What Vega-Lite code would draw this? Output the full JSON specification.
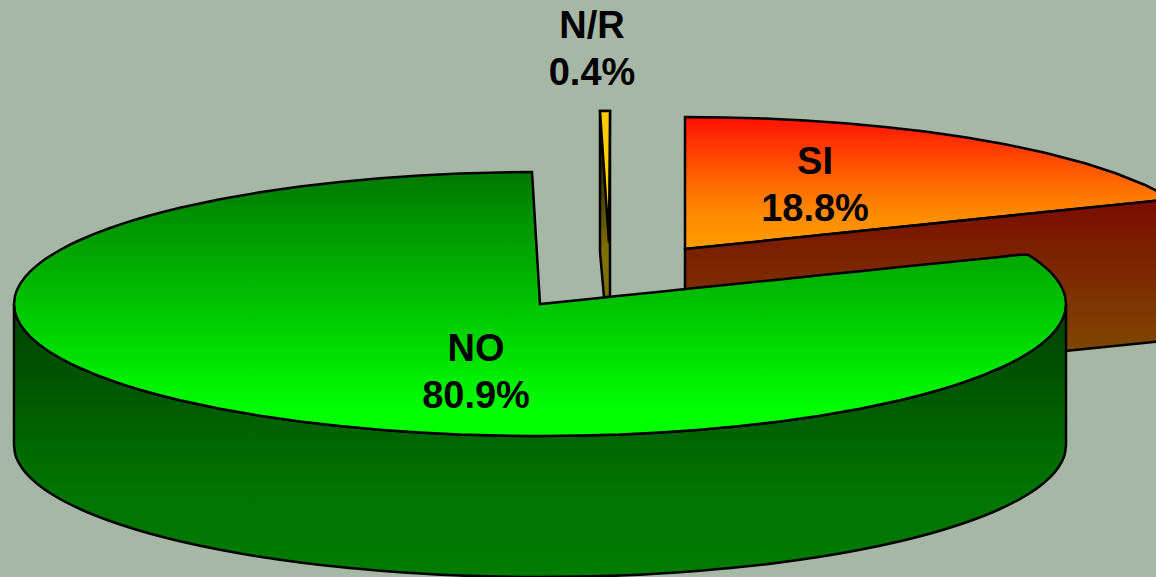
{
"$schema":"https://vega.github.io/schema/vega-lite/v6.json",
"width":1156,"height":577,"padding":0,"autosize":"none","background":"#A6B7A6",
"config":{"view":{"stroke":null}},
"datasets":{
"siTop":[{"x":685,"y":117,"y2":249},{"x":725,"y":117.4,"y2":244.9},{"x":765,"y":118.5,"y2":240.8},{"x":805,"y":120.5,"y2":236.7},{"x":845,"y":123.3,"y2":232.6},{"x":885,"y":126.9,"y2":228.5},{"x":925,"y":131.5,"y2":224.4},{"x":965,"y":137.2,"y2":220.3},{"x":1005,"y":144.2,"y2":216.2},{"x":1045,"y":152.8,"y2":212.1},{"x":1085,"y":163.3,"y2":208},{"x":1115,"y":173,"y2":204.9},{"x":1145,"y":185,"y2":201.9},{"x":1165,"y":195,"y2":199.8},{"x":1172,"y":199.1,"y2":199.1}],
"siSide":[{"x":685,"y":249,"y2":390},{"x":1172,"y":199.1,"y2":340.1}],
"nrSide":[{"x":600,"y":111,"y2":252},{"x":604,"y":111,"y2":297},{"x":610,"y":111,"y2":297}],
"nrTop":[{"x":600,"y":111,"y2":111},{"x":609,"y":111,"y2":243},{"x":610,"y":111,"y2":111}],
"noSide":[{"x":14,"y":304,"y2":445},{"x":15,"y":312.1,"y2":453.1},{"x":17,"y":318.1,"y2":459.1},{"x":20,"y":323.9,"y2":464.9},{"x":25,"y":330.9,"y2":471.9},{"x":30,"y":336.3,"y2":477.3},{"x":40,"y":345,"y2":486},{"x":60,"y":358,"y2":499},{"x":80,"y":368,"y2":509},{"x":110,"y":380,"y2":521},{"x":140,"y":389.7,"y2":530.7},{"x":180,"y":400.2,"y2":541.2},{"x":220,"y":408.8,"y2":549.8},{"x":260,"y":415.8,"y2":556.8},{"x":300,"y":421.5,"y2":562.5},{"x":340,"y":426.1,"y2":567.1},{"x":380,"y":429.7,"y2":570.7},{"x":420,"y":432.5,"y2":573.5},{"x":460,"y":434.5,"y2":575.5},{"x":500,"y":435.6,"y2":576.6},{"x":540,"y":436,"y2":577},{"x":580,"y":435.6,"y2":576.6},{"x":620,"y":434.5,"y2":575.5},{"x":660,"y":432.5,"y2":573.5},{"x":700,"y":429.7,"y2":570.7},{"x":740,"y":426.1,"y2":567.1},{"x":780,"y":421.5,"y2":562.5},{"x":820,"y":415.8,"y2":556.8},{"x":860,"y":408.8,"y2":549.8},{"x":900,"y":400.2,"y2":541.2},{"x":940,"y":389.7,"y2":530.7},{"x":970,"y":380,"y2":521},{"x":1000,"y":368,"y2":509},{"x":1020,"y":358,"y2":499},{"x":1040,"y":345,"y2":486},{"x":1050,"y":336.3,"y2":477.3},{"x":1055,"y":330.9,"y2":471.9},{"x":1060,"y":323.9,"y2":464.9},{"x":1063,"y":318.1,"y2":459.1},{"x":1065,"y":312.1,"y2":453.1},{"x":1066,"y":304,"y2":445}],
"noTop":[{"x":14,"y":304,"y2":304},{"x":15,"y":295.9,"y2":312.1},{"x":17,"y":289.9,"y2":318.1},{"x":20,"y":284.1,"y2":323.9},{"x":25,"y":277.1,"y2":330.9},{"x":30,"y":271.7,"y2":336.3},{"x":35,"y":267.1,"y2":340.9},{"x":40,"y":263,"y2":345},{"x":45,"y":259.3,"y2":348.7},{"x":50,"y":256,"y2":352},{"x":60,"y":250,"y2":358},{"x":70,"y":244.7,"y2":363.3},{"x":80,"y":240,"y2":368},{"x":95,"y":233.6,"y2":374.4},{"x":110,"y":228,"y2":380},{"x":125,"y":222.9,"y2":385.1},{"x":140,"y":218.3,"y2":389.7},{"x":160,"y":212.7,"y2":395.3},{"x":180,"y":207.8,"y2":400.2},{"x":220,"y":199.2,"y2":408.8},{"x":260,"y":192.2,"y2":415.8},{"x":300,"y":186.5,"y2":421.5},{"x":340,"y":181.9,"y2":426.1},{"x":380,"y":178.3,"y2":429.7},{"x":420,"y":175.5,"y2":432.5},{"x":460,"y":173.5,"y2":434.5},{"x":500,"y":172.4,"y2":435.6},{"x":532,"y":172,"y2":436},{"x":540,"y":304,"y2":436},{"x":580,"y":299.9,"y2":435.6},{"x":620,"y":295.8,"y2":434.5},{"x":660,"y":291.7,"y2":432.5},{"x":700,"y":287.6,"y2":429.7},{"x":740,"y":283.5,"y2":426.1},{"x":780,"y":279.4,"y2":421.5},{"x":820,"y":275.3,"y2":415.8},{"x":860,"y":271.2,"y2":408.8},{"x":900,"y":267.1,"y2":400.2},{"x":920,"y":265.1,"y2":395.3},{"x":940,"y":263,"y2":389.7},{"x":955,"y":261.5,"y2":385.1},{"x":970,"y":259.9,"y2":380},{"x":985,"y":258.4,"y2":374.4},{"x":1000,"y":256.9,"y2":368},{"x":1010,"y":255.8,"y2":363.3},{"x":1020,"y":254.8,"y2":358},{"x":1028,"y":254.7,"y2":353.3},{"x":1035,"y":259.3,"y2":348.7},{"x":1040,"y":263,"y2":345},{"x":1045,"y":267.1,"y2":340.9},{"x":1050,"y":271.7,"y2":336.3},{"x":1055,"y":277.1,"y2":330.9},{"x":1060,"y":284.1,"y2":323.9},{"x":1063,"y":289.9,"y2":318.1},{"x":1065,"y":295.9,"y2":312.1},{"x":1066,"y":304,"y2":304}],
"labels":[{"x":476,"y":361,"label":"NO"},{"x":476,"y":408,"label":"80.9%"},{"x":815,"y":174,"label":"SI"},{"x":815,"y":221,"label":"18.8%"},{"x":592,"y":38,"label":"N/R"},{"x":592,"y":85,"label":"0.4%"}]
},
"encoding":{
"x":{"field":"x","type":"quantitative","axis":null,"scale":{"domain":[0,1156],"nice":false,"zero":false}},
"y":{"field":"y","type":"quantitative","axis":null,"stack":null,"scale":{"domain":[577,0],"nice":false,"zero":false}}
},
"layer":[
{"data":{"name":"siTop"},"mark":{"type":"area","clip":true,"stroke":"#000000","strokeWidth":2.5,"fill":{"gradient":"linear","x1":0,"y1":0,"x2":0,"y2":1,"stops":[{"offset":0,"color":"#FF1000"},{"offset":0.5,"color":"#FF6A00"},{"offset":0.75,"color":"#FF8C00"},{"offset":1,"color":"#FF9C00"}]}},"encoding":{"y2":{"field":"y2"}}},
{"data":{"name":"siSide"},"mark":{"type":"area","clip":true,"stroke":"#000000","strokeWidth":2.5,"fill":{"gradient":"linear","x1":0,"y1":0,"x2":0,"y2":1,"stops":[{"offset":0,"color":"#7A0C00"},{"offset":1,"color":"#805600"}]}},"encoding":{"y2":{"field":"y2"}}},
{"data":{"name":"nrSide"},"mark":{"type":"area","stroke":"#000000","strokeWidth":2.5,"fill":{"gradient":"linear","x1":0,"y1":0,"x2":0,"y2":1,"stops":[{"offset":0,"color":"#000000"},{"offset":0.75,"color":"#807000"},{"offset":1,"color":"#807000"}]}},"encoding":{"y2":{"field":"y2"}}},
{"data":{"name":"nrTop"},"mark":{"type":"area","stroke":"#000000","strokeWidth":2.5,"fill":{"gradient":"linear","x1":0,"y1":0,"x2":0,"y2":1,"stops":[{"offset":0,"color":"#FFC800"},{"offset":1,"color":"#FFE000"}]}},"encoding":{"y2":{"field":"y2"}}},
{"data":{"name":"noSide"},"mark":{"type":"area","interpolate":"monotone","stroke":"#000000","strokeWidth":2.5,"fill":{"gradient":"linear","x1":0,"y1":0,"x2":0,"y2":1,"stops":[{"offset":0,"color":"#004000"},{"offset":0.4,"color":"#005E00"},{"offset":0.65,"color":"#007200"},{"offset":1,"color":"#007C00"}]}},"encoding":{"y2":{"field":"y2"}}},
{"data":{"name":"noTop"},"mark":{"type":"area","stroke":"#000000","strokeWidth":2.5,"fill":{"gradient":"linear","x1":0,"y1":0,"x2":0,"y2":1,"stops":[{"offset":0,"color":"#007800"},{"offset":0.9,"color":"#00FF00"},{"offset":1,"color":"#00FF00"}]}},"encoding":{"y2":{"field":"y2"}}},
{"data":{"name":"labels"},"mark":{"type":"text","font":"Liberation Sans","fontWeight":"bold","fontSize":38,"align":"center","baseline":"alphabetic","color":"#000000"},"encoding":{"text":{"field":"label"}}}
]
}
